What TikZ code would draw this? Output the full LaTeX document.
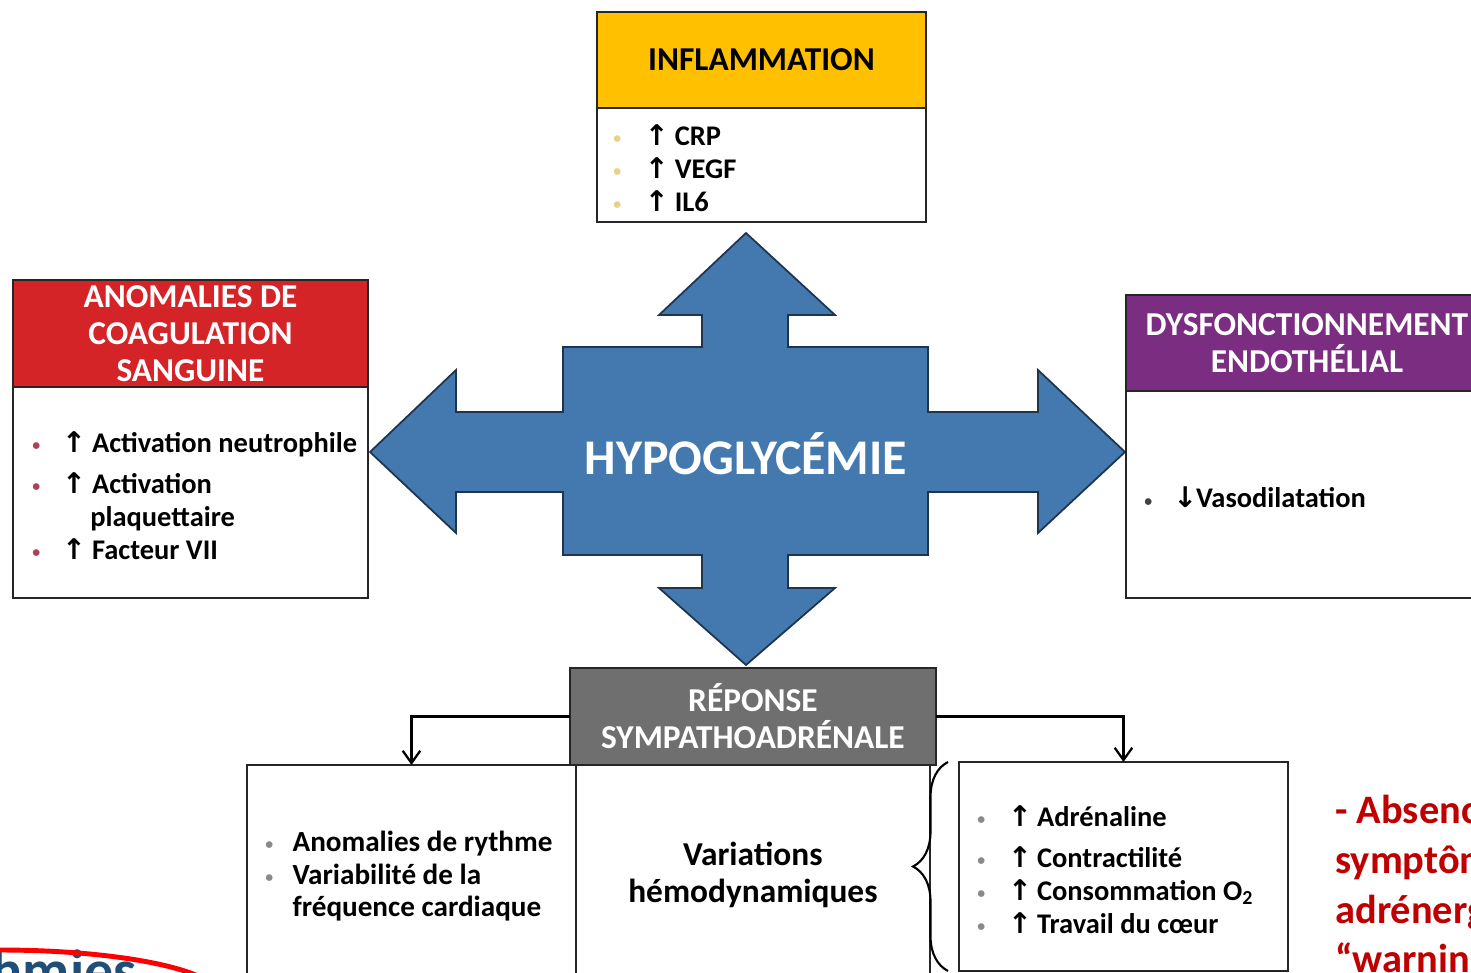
\documentclass[tikz,border=0pt]{standalone}
\usepackage{fontspec}
\setmainfont{Carlito}
\newfontfamily\arrowfont{DejaVu Sans}
\usetikzlibrary{arrows.meta,positioning,decorations.pathreplacing}

\definecolor{inflamyellow}{HTML}{FFC000}
\definecolor{coagred}{HTML}{D42428}
\definecolor{endopurple}{HTML}{7B2D82}
\definecolor{sympgray}{HTML}{6F6F6F}
\definecolor{hypoblue}{HTML}{4379AE}
\definecolor{hypoedge}{HTML}{1E344F}
\definecolor{warnred}{HTML}{C00000}
\definecolor{arythblue}{HTML}{1F4E79}
\definecolor{dotyellow}{HTML}{E8D28A}
\definecolor{dotred}{HTML}{B0405A}
\definecolor{dotgray}{HTML}{8A8A8A}

\newcommand{\hdrfont}{\fontsize{19}{21}\selectfont\bfseries}
\newcommand{\itemfont}{\fontsize{16.2}{18.7}\selectfont\bfseries}
\newcommand{\dotmark}[2][17pt]{\makebox[#1][l]{\raisebox{1pt}{\textcolor{#2}{\fontsize{9}{9}\selectfont\textbullet}}}}
\newcommand{\uparr}[1][17pt]{\makebox[#1][l]{\arrowfont\bfseries ↑}}
\newcommand{\downarr}[1][13pt]{\makebox[#1][l]{\arrowfont\bfseries ↓}}

\begin{document}
\begin{tikzpicture}[x=0.02cm, y=-0.02cm,
    hdr/.style={rectangle, draw=black!85, line width=1.1pt, outer sep=0pt, inner sep=0pt,
                align=center, font=\hdrfont, text=white, anchor=north west},
    bodybox/.style={rectangle, draw=black!85, line width=1.1pt, outer sep=0pt, fill=white},
    itemlist/.style={align=left, inner sep=0pt, font=\itemfont, anchor=west, yshift=-1.8pt},
    conn/.style={-{Straight Barb[length=7pt,width=10pt]}, line width=1.3pt},
    grouping/.style={decorate, decoration={brace, amplitude=0.7cm}, line width=1.2pt},
    hypocross/.style={fill=hypoblue, draw=hypoedge, line width=1pt, line join=miter}
  ]
  \useasboundingbox (0,0) rectangle (1471,973);
  \clip (0,0) rectangle (1471,973);

  % central cross
  \draw[hypocross] (746,233) -- (835,315) -- (788,315) -- (788,347) -- (928,347) -- (928,412)
    -- (1038,412) -- (1038,370) -- (1125,452) -- (1038,533) -- (1038,492) -- (928,492)
    -- (928,555) -- (788,555) -- (788,588) -- (835,588) -- (746,665) -- (659,588)
    -- (702,588) -- (702,555) -- (563,555) -- (563,492) -- (456,492) -- (456,533)
    -- (370,452) -- (456,370) -- (456,412) -- (563,412) -- (563,347) -- (702,347)
    -- (702,315) -- (659,315) -- cycle;
  \node[font=\fontsize{28.4}{30}\selectfont\bfseries, text=white] (hypo) at (746,454) {HYPOGLYCÉMIE};

  % Inflammation
  \node[hdr, fill=inflamyellow, text=black, minimum width=6.58cm, minimum height=1.92cm] (infh) at (597,12) {INFLAMMATION};
  \node[bodybox, below=0pt of infh, minimum width=6.58cm, minimum height=2.28cm] (infb) {};
  \node[itemlist, right=0.32cm of infb.west] (infl) {%
    \dotmark[18pt]{dotyellow}\uparr CRP\\
    \dotmark[18pt]{dotyellow}\uparr VEGF\\
    \dotmark[18pt]{dotyellow}\uparr IL6};

  % Coagulation
  \node[hdr, fill=coagred, minimum width=7.1cm, minimum height=2.14cm] (coagh) at (13,280) {ANOMALIES DE\\COAGULATION\\SANGUINE};
  \node[bodybox, below=0pt of coagh, minimum width=7.1cm, minimum height=4.22cm] (coagb) {};
  \node[itemlist, right=0.38cm of coagb.west] (coagl) {%
    \dotmark{dotred}\uparr Activation neutrophile\\[4.5pt]
    \dotmark{dotred}\uparr Activation\\
    \hspace*{33pt}plaquettaire\\
    \dotmark{dotred}\uparr Facteur VII};

  % Endothelium
  \node[hdr, fill=endopurple, minimum width=7.24cm, minimum height=1.92cm] (endoh) at (1126,295) {DYSFONCTIONNEMENT\\ENDOTHÉLIAL};
  \node[bodybox, below=0pt of endoh, minimum width=7.24cm, minimum height=4.14cm] (endob) {};
  \node[itemlist, right=0.36cm of endob.west] (endol) {%
    \dotmark[16.5pt]{black!75}\downarr Vasodilatation};

  % Sympathoadrenal response
  \node[hdr, fill=sympgray, minimum width=7.32cm, minimum height=1.94cm] (reph) at (570,668) {RÉPONSE\\SYMPATHOADRÉNALE};

  \node[bodybox, anchor=north west, minimum width=6.58cm, minimum height=4.32cm] (leftb) at (247,765) {};
  \node[itemlist, right=0.36cm of leftb.west, font=\fontsize{16.6}{18.7}\selectfont\bfseries] (leftl) {%
    \dotmark[15.5pt]{dotgray}Anomalies de rythme\\
    \dotmark[15.5pt]{dotgray}Variabilité de la\\
    \hspace*{15.5pt}fréquence cardiaque};

  \node[bodybox, anchor=north west, minimum width=7.08cm, minimum height=4.4cm, align=center,
        font=\fontsize{19}{21}\selectfont\bfseries] (midb) at (leftb.north east) {Variations\\hémodynamiques};

  \node[bodybox, anchor=north west, minimum width=6.58cm, minimum height=4.18cm] (rightb) at (959,762) {};
  \node[itemlist, right=0.36cm of rightb.west] (rightl) {%
    \dotmark[17.5pt]{dotgray}\uparr[16.5pt]Adrénaline\\[4.5pt]
    \dotmark[17.5pt]{dotgray}\uparr[16.5pt]Contractilité\\
    \dotmark[17.5pt]{dotgray}\uparr[16.5pt]Consommation O\textsubscript{2}\\
    \dotmark[17.5pt]{dotgray}\uparr[16.5pt]Travail du cœur};

  % Connectors
  \draw[conn] (reph.west) -| (leftb.north);
  \draw[conn] (reph.east) -| (rightb.north);
  \draw[grouping] ([xshift=-0.22cm]rightb.south west) -- ([xshift=-0.22cm]rightb.north west);

  % Side notes
  \node[anchor=north west, align=left, inner sep=0pt, text=warnred,
        font=\fontsize{23}{28.3}\selectfont\bfseries] (warn) at (1335,795)
        {- Absence de\\symptômes\\adrénergiques\\“warning”};
  \node[anchor=base east, inner sep=0pt, text=arythblue,
        font=\fontsize{33}{34}\selectfont\bfseries] (aryth) at (137,990) {Arythmies};
  \draw[red, line width=2.8pt] (0,996) ellipse [x radius=4.4cm, y radius=0.92cm];
\end{tikzpicture}
\end{document}
